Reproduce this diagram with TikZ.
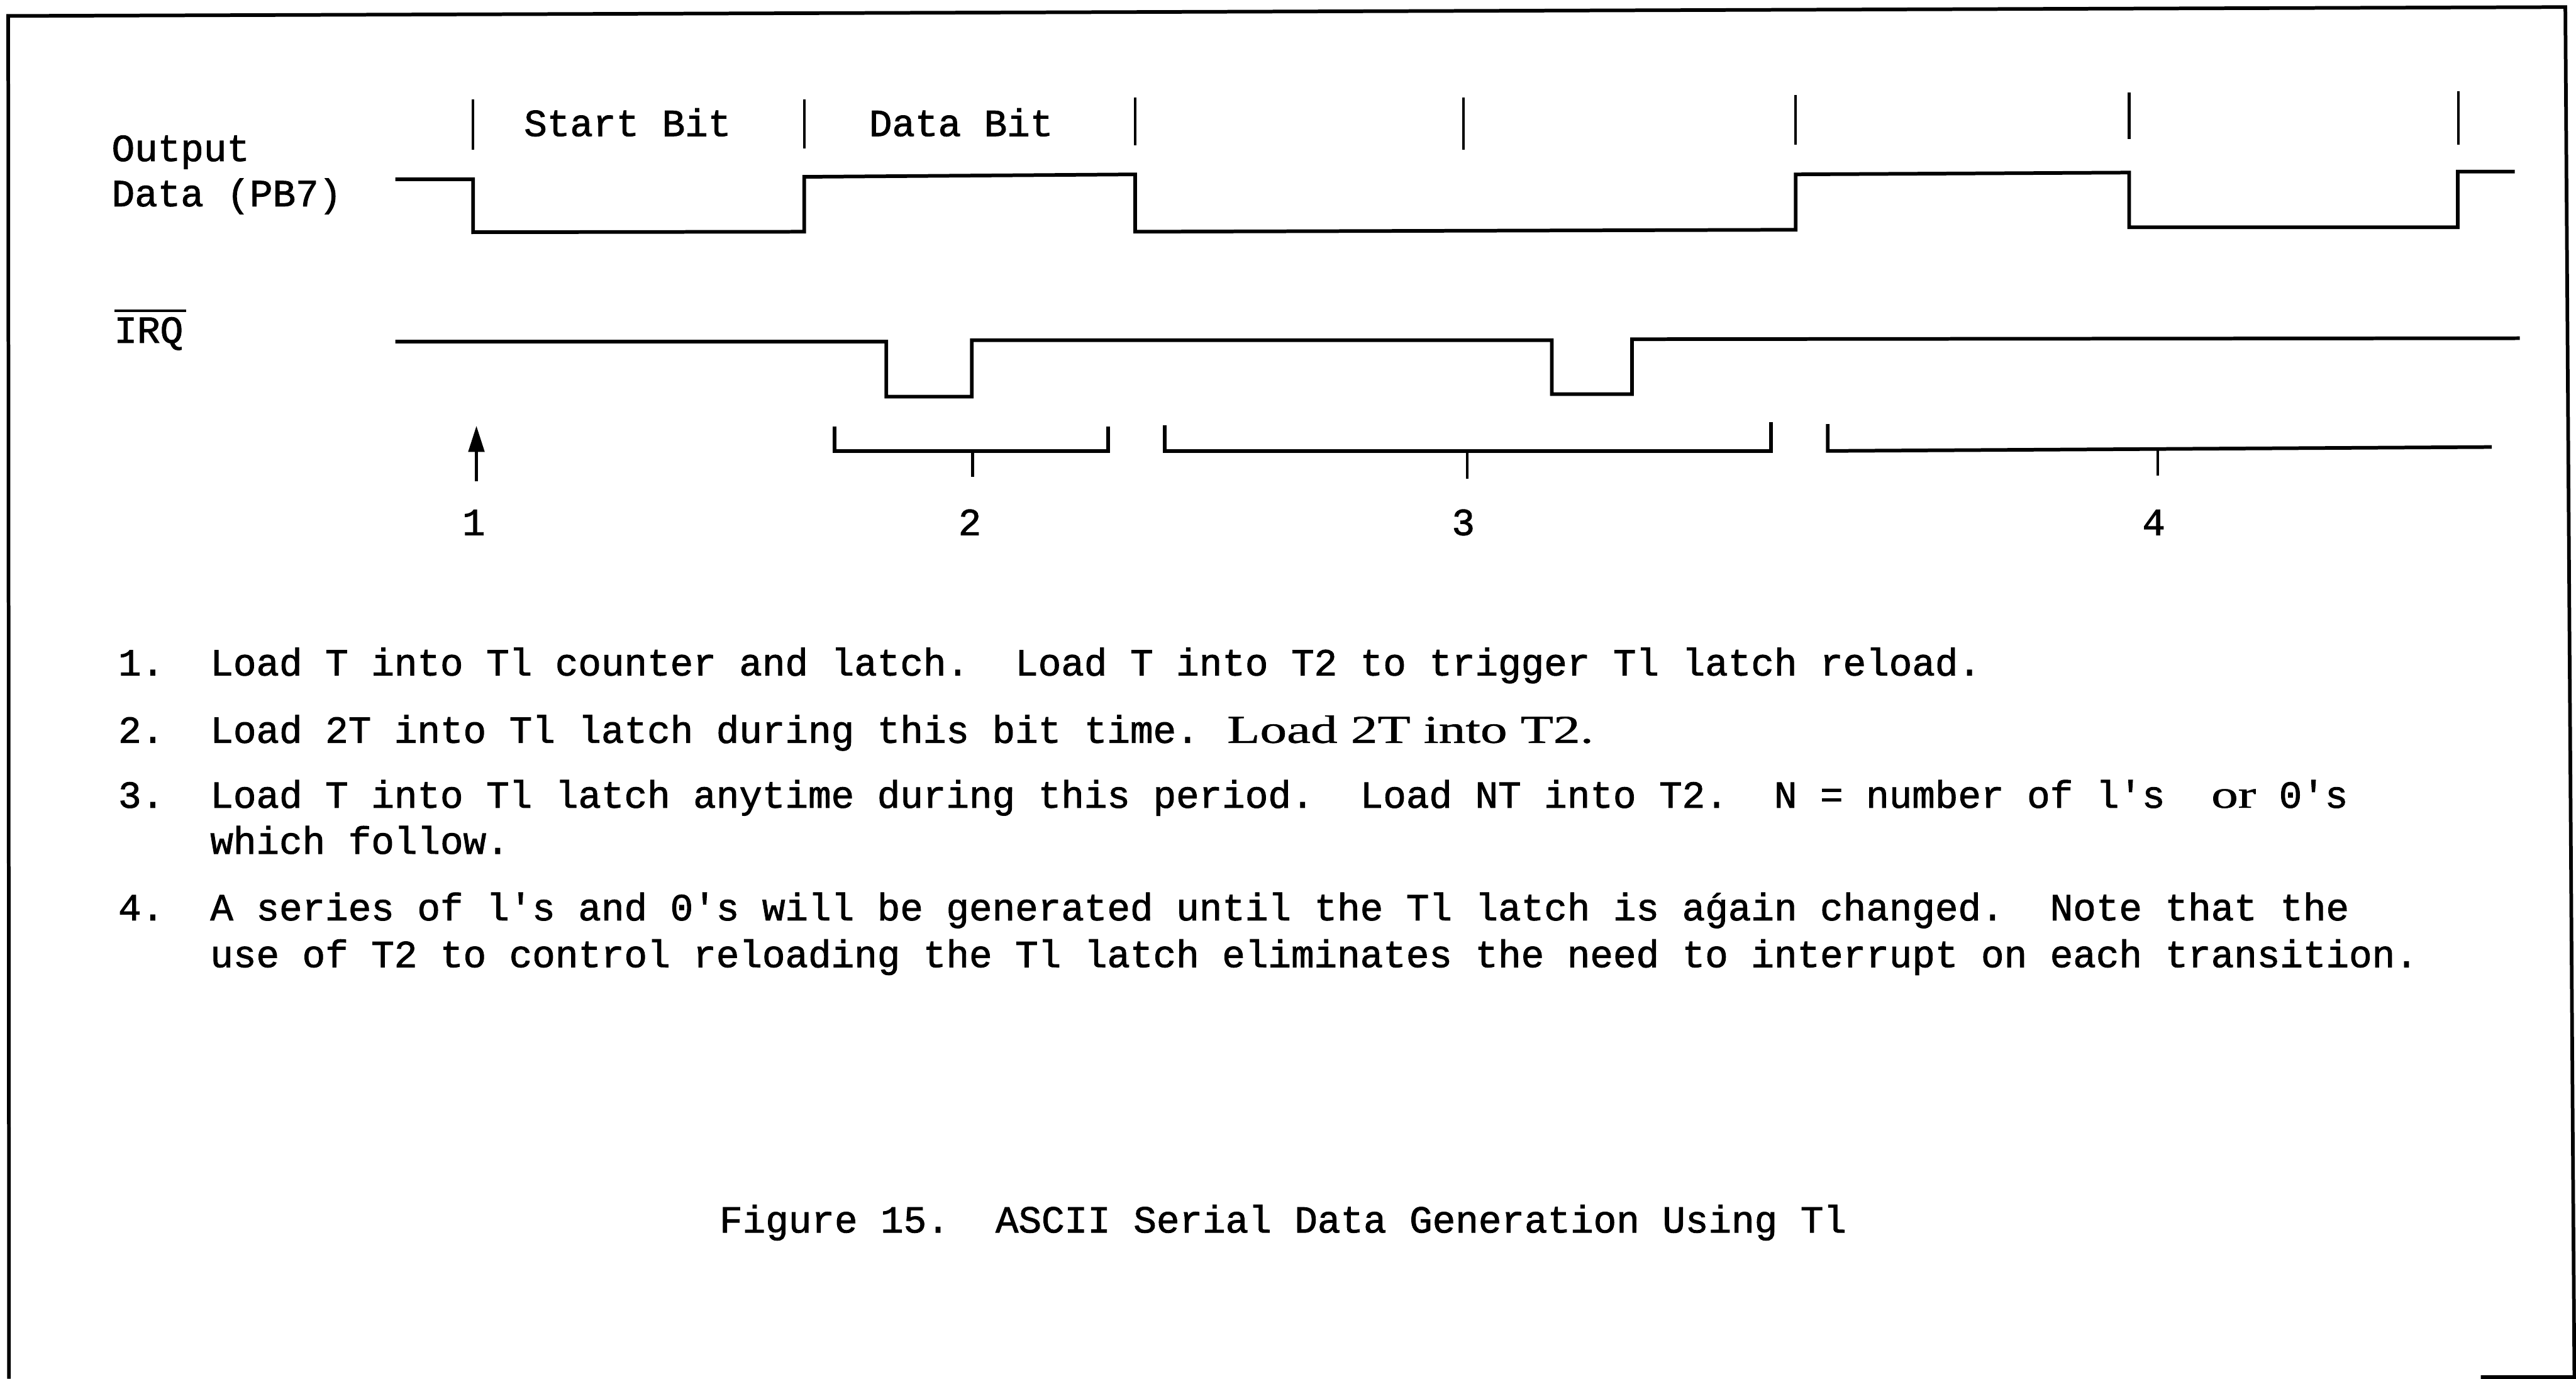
\documentclass[tikz,border=0pt]{standalone}
\usepackage{fontspec}
\usepackage{graphicx}
\newfontfamily\tw[FakeBold=1.5]{Liberation Mono}
\newfontfamily\tsrf[FakeBold=0.8]{Liberation Serif}
\usetikzlibrary{arrows.meta}
\newcommand\monotxt{\tw\fontsize{23.33}{28}\selectfont\frenchspacing}
\newcommand\srfpart[1]{\scalebox{1.36}[1]{\tsrf\fontsize{24}{28}\selectfont #1}}
\begin{document}
\begin{tikzpicture}[x=1pt,y=-1pt,
  wave/.style={line width=2.2pt, line join=miter},
  tickmark/.style={line width=1.6pt},
  frame/.style={line width=2.2pt, line join=miter},
  lbl/.style={inner sep=0pt, outer sep=0pt, anchor=base west, font=\monotxt},
  num/.style={inner sep=0pt, outer sep=0pt, anchor=base, font=\monotxt}]
\useasboundingbox (0,0) rectangle (1568,839);

% frame
\draw[frame] (5.5,839) -- (5,9.7) -- (1561.5,4.3) -- (1567,838) -- (1510,838);

% signal labels
\node[lbl] (out) at (68,98) {Output};
\node[lbl] (dat) at (68,125.5) {Data (PB7)};
\node[lbl] (irq) at (69.5,208.6) {IRQ};
\draw[tickmark] (69.8,189.2) -- (113.4,189.2);

% bit labels
\node[lbl] (sb) at (319,82.8) {Start Bit};
\node[lbl] (db) at (529,82.8) {Data Bit};

% bit boundary ticks
\draw[tickmark] (288,60.4) -- (288,91);
\draw[tickmark] (489.5,60.4) -- (489.5,90.4);
\draw[tickmark] (691,59.2) -- (691,88.3);
\draw[tickmark] (890.7,59.2) -- (890.7,91);
\draw[tickmark] (1092.8,57.8) -- (1092.8,88);
\draw[tickmark] (1296,56.4) -- (1296,84.7);
\draw[tickmark] (1496.5,55.5) -- (1496.5,88);

% output data waveform
\draw[wave] (240.6,109.1) -- (288,109.1) -- (288,141.3) -- (489.5,141) -- (489.5,107.6)
  -- (691,106.1) -- (691,141) -- (1093,139.8) -- (1093,106.1) -- (1296,105)
  -- (1296,138.3) -- (1496,138.3) -- (1496,104.4) -- (1530.7,104.4);

% IRQ waveform
\draw[wave] (240.6,207.9) -- (539.5,207.9) -- (539.5,241.4) -- (591.5,241.4) -- (591.5,207)
  -- (944.6,207) -- (944.6,239.8) -- (993.4,239.8) -- (993.4,206.4) -- (1533.8,205.8);

% arrow 1
\coordinate (a1s) at (290,292.8);
\coordinate (a1e) at (290,259);
\draw[line width=2.2pt, -{Triangle[width=9.5pt,length=16pt]}] (a1s) -- (a1e);

% brackets
\draw[wave] (508,259.4) -- (508,274.4) -- (674.5,274.4) -- (674.5,259.4);
\draw[tickmark] (592,274.4) -- (592,290.2);
\draw[wave] (709,258.9) -- (709,274.4) -- (1078,274.4) -- (1078,256.9);
\draw[tickmark] (893,274.4) -- (893,291.2);
\draw[wave] (1112.5,258.1) -- (1112.5,274.4) -- (1516.7,272);
\draw[tickmark] (1313.5,273.3) -- (1313.5,289.5);

% numbers
\node[num] (n1) at (288.4,325.6) {1};
\node[num] (n2) at (590.3,325.6) {2};
\node[num] (n3) at (890.7,325.6) {3};
\node[num] (n4) at (1311,325.6) {4};

% notes
\node[lbl] (t1) at (72,411) {1.~ Load T into Tl counter and latch.~ Load T into T2 to trigger Tl latch reload.};
\node[lbl] (t2) at (72,452) {2.~ Load 2T into Tl latch during this bit time.};
\node[lbl] (t2b) at (747,452) {\srfpart{Load 2T into T2.}};
\node[lbl] (t3) at (72,491.5) {3.~ Load T into Tl latch anytime during this period.~ Load NT into T2.~ N = number of l's~ \srfpart{or} 0's};
\node[lbl] (t3b) at (128,519.5) {which follow.};
\node[lbl] (t4) at (72,560) {4.~ A series of l's and 0's will be generated until the Tl latch is a\accent"B4 gain changed.~ Note that the};
\node[lbl] (t4b) at (128,588.5) {use of T2 to control reloading the Tl latch eliminates the need to interrupt on each transition.};

% caption
\node[lbl] (cap) at (438,750) {Figure 15.~ ASCII Serial Data Generation Using Tl};
\end{tikzpicture}
\end{document}
